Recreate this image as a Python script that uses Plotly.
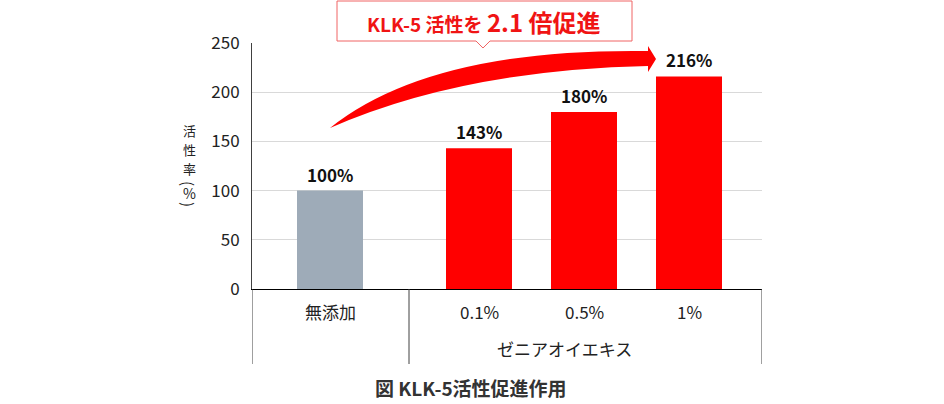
import plotly.graph_objects as go

# --- data -------------------------------------------------------------
categories = ["無添加", "0.1%", "0.5%", "1%"]
activity = [100, 143, 180, 216]          # 活性率 (%)
group_label = "ゼニアオイエキス"
y_ticks = [0, 50, 100, 150, 200, 250]

# --- layout helpers -----------------------------------------------------
W, H = 944, 404
L, R, T, B = 252, 182, 43, 115           # margins (px)
PLOT_W = W - L - R                       # 510
PLOT_H = H - T - B                       # 246
Y_MAX = 250

FONT = "Noto Sans CJK JP"
RED = "#ff0000"
GREY = "#9eabb8"

# bar centres along a pixel-based x axis (0 .. PLOT_W)
x_pos = [78, 227, 332, 437]
bar_w = 66
bar_colors = [GREY, RED, RED, RED]


def xd(px):
    """canvas x (px) -> x-axis data units"""
    return px - L


def yd(py):
    """canvas y (px) -> y-axis data units"""
    return (T + PLOT_H - py) * Y_MAX / PLOT_H


def xp(px):
    return (px - L) / PLOT_W


def yp(py):
    return (T + PLOT_H - py) / PLOT_H


fig = go.Figure()
fig.add_trace(go.Bar(
    x=x_pos, y=activity, width=bar_w,
    marker=dict(color=bar_colors, line=dict(width=0)),
    hoverinfo="skip",
))

annotations = []
# value labels above bars
for x, v in zip(x_pos, activity):
    annotations.append(dict(
        x=x, y=v, xref="x", yref="y", text=f"{v}%", showarrow=False,
        yanchor="bottom", yshift=2,
        font=dict(family=FONT, size=17, color="#111111", weight="bold"),
    ))
# category labels
for x, c in zip(x_pos, categories):
    annotations.append(dict(
        x=x, y=yp(311), xref="x", yref="paper", text=c, showarrow=False,
        yanchor="middle", font=dict(family=FONT, size=17, color="#222222"),
    ))
annotations.append(dict(
    x=xd(564), y=yp(348), xref="x", yref="paper", text=group_label,
    showarrow=False, yanchor="middle",
    font=dict(family=FONT, size=17, color="#222222"),
))
# vertical y-axis title: 活性率(%) stacked top to bottom
axis_title = [("活", 130, 0, 13), ("性", 149, 0, 13), ("率", 168, 0, 13),
              ("(", 183, 90, 15), ("%", 193, 0, 14), (")", 204, 90, 15)]
for ch, py, ang, sz in axis_title:
    annotations.append(dict(
        x=xp(189), y=yp(py), xref="paper", yref="paper", text=ch,
        showarrow=False, xanchor="center", yanchor="middle", textangle=ang,
        font=dict(family=FONT, size=sz, color="#222222"),
    ))
# headline inside callout
annotations.append(dict(
    x=xp(484), y=yp(21), xref="paper", yref="paper",
    text="KLK-5 活性を <span style='font-size:24px'>2.1 倍促進</span>",
    showarrow=False, xanchor="center", yanchor="middle",
    font=dict(family=FONT, size=19, color="#f01414", weight="bold"),
))
# caption
annotations.append(dict(
    x=xp(471), y=yp(387), xref="paper", yref="paper",
    text="図 KLK-5活性促進作用", showarrow=False,
    xanchor="center", yanchor="middle",
    font=dict(family=FONT, size=19, color="#333333", weight="bold"),
))

shapes = []
# category axis dividers below the baseline
for px in (L, 409, L + PLOT_W):
    shapes.append(dict(
        type="line", xref="x", yref="paper",
        x0=xd(px), x1=xd(px), y0=yp(364), y1=0,
        line=dict(color="#404040", width=1),
    ))

# callout box with pointer
pts = [(337, 1), (632, 1), (632, 41), (490, 41), (483, 48), (476, 41), (337, 41)]
path = "M " + " L ".join(f"{xp(a):.5f},{yp(b):.5f}" for a, b in pts) + " Z"
shapes.append(dict(
    type="path", xref="paper", yref="paper", path=path,
    fillcolor="white", line=dict(color="#f06464", width=1), layer="above",
))

# curved growth arrow
def P(a, b):
    return f"{xd(a):.2f},{yd(b):.3f}"

arrow = (
    f"M {P(330, 128)} Q {P(430, 48)} {P(648, 51)} "
    f"L {P(648, 46)} L {P(656, 59)} L {P(648, 72)} L {P(648, 66)} "
    f"Q {P(462, 70)} {P(330, 128)} Z"
)
shapes.append(dict(
    type="path", xref="x", yref="y", path=arrow,
    fillcolor=RED, line=dict(width=0), layer="above",
))

fig.update_layout(
    width=W, height=H,
    margin=dict(l=L, r=R, t=T, b=B, autoexpand=False),
    paper_bgcolor="white", plot_bgcolor="white",
    showlegend=False,
    font=dict(family=FONT),
    xaxis=dict(
        range=[0, PLOT_W], showgrid=False, zeroline=False,
        showticklabels=False, ticks="",
        showline=True, linecolor="#000000", linewidth=1,
    ),
    yaxis=dict(
        range=[0, Y_MAX], tickvals=y_ticks, showgrid=True,
        gridcolor="#d9d9d9", gridwidth=1, zeroline=False,
        showline=True, linecolor="#404040", linewidth=1,
        ticks="", ticklabelstandoff=8,
        tickfont=dict(family=FONT, size=17, color="#222222"),
    ),
    annotations=annotations,
    shapes=shapes,
)

fig.write_html("out.html")
